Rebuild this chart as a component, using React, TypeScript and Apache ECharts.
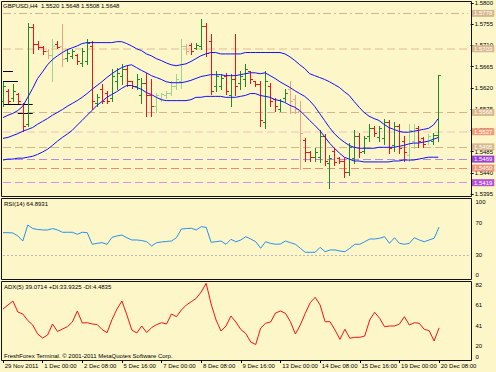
import React, { useEffect, useRef } from 'react';
import * as echarts from 'echarts';

const tickLabels = ['29 Nov 2011', '1 Dec 00:00', '2 Dec 08:00', '5 Dec 16:00', '7 Dec 00:00', '8 Dec 08:00', '9 Dec 16:00', '13 Dec 00:00', '14 Dec 08:00', '15 Dec 16:00', '19 Dec 00:00', '20 Dec 08:00'];

const opens = [1.5593,1.5614,1.5599,1.5606,1.5585,1.5544,1.5749,1.5713,1.5707,1.5699,
1.5690,1.5713,1.5709,1.5684,1.5688,1.5690,1.5673,1.5677,1.5709,1.5587,
1.5618,1.5610,1.5599,1.5635,1.5646,1.5661,1.5635,1.5625,1.5604,1.5631,
1.5604,1.5582,1.5599,1.5604,1.5610,1.5625,1.5635,1.5709,1.5711,1.5705,
1.5709,1.5751,1.5720,1.5625,1.5625,1.5646,1.5604,1.5639,1.5631,1.5639,
1.5656,1.5635,1.5629,1.5547,1.5625,1.5597,1.5576,1.5599,1.5618,1.5597,
1.5572,1.5509,1.5483,1.5473,1.5473,1.5519,1.5460,1.5487,1.5471,1.5466,
1.5441,1.5471,1.5519,1.5487,1.5519,1.5536,1.5515,1.5513,1.5547,1.5498,
1.5540,1.5508,1.5477,1.5508,1.5534,1.5513,1.5508,1.5508,1.5520];
const highs = [1.5633,1.5618,1.5629,1.5610,1.5589,1.5758,1.5755,1.5720,1.5709,1.5703,
1.5724,1.5720,1.5755,1.5703,1.5703,1.5692,1.5705,1.5724,1.5720,1.5608,
1.5629,1.5614,1.5661,1.5663,1.5671,1.5667,1.5635,1.5650,1.5642,1.5652,
1.5639,1.5610,1.5610,1.5614,1.5635,1.5650,1.5724,1.5713,1.5715,1.5715,
1.5766,1.5758,1.5734,1.5656,1.5650,1.5652,1.5650,1.5734,1.5656,1.5671,
1.5656,1.5635,1.5635,1.5656,1.5631,1.5599,1.5597,1.5618,1.5635,1.5604,
1.5593,1.5513,1.5487,1.5492,1.5530,1.5523,1.5477,1.5492,1.5473,1.5471,
1.5504,1.5530,1.5525,1.5519,1.5544,1.5540,1.5540,1.5555,1.5551,1.5547,
1.5544,1.5519,1.5544,1.5544,1.5540,1.5515,1.5523,1.5525,1.5648];
const lows = [1.5582,1.5587,1.5593,1.5587,1.5528,1.5540,1.5694,1.5703,1.5692,1.5684,
1.5635,1.5705,1.5667,1.5677,1.5684,1.5671,1.5667,1.5671,1.5576,1.5582,
1.5587,1.5587,1.5593,1.5618,1.5629,1.5625,1.5620,1.5618,1.5589,1.5561,
1.5561,1.5568,1.5593,1.5599,1.5604,1.5618,1.5620,1.5692,1.5692,1.5703,
1.5703,1.5688,1.5608,1.5614,1.5618,1.5608,1.5582,1.5604,1.5618,1.5625,
1.5631,1.5625,1.5540,1.5536,1.5582,1.5572,1.5572,1.5593,1.5566,1.5566,
1.5449,1.5466,1.5466,1.5466,1.5462,1.5456,1.5407,1.5456,1.5460,1.5431,
1.5435,1.5460,1.5473,1.5481,1.5508,1.5519,1.5508,1.5502,1.5481,1.5487,
1.5481,1.5466,1.5466,1.5492,1.5494,1.5494,1.5502,1.5502,1.5508];
const closes = [1.5625,1.5593,1.5614,1.5593,1.5540,1.5749,1.5713,1.5707,1.5699,1.5690,
1.5709,1.5707,1.5682,1.5694,1.5699,1.5677,1.5699,1.5715,1.5593,1.5601,
1.5593,1.5593,1.5646,1.5652,1.5661,1.5635,1.5625,1.5639,1.5631,1.5604,
1.5582,1.5604,1.5606,1.5610,1.5625,1.5639,1.5709,1.5699,1.5699,1.5711,
1.5751,1.5694,1.5614,1.5646,1.5642,1.5614,1.5639,1.5625,1.5646,1.5661,
1.5639,1.5629,1.5551,1.5635,1.5593,1.5582,1.5593,1.5610,1.5593,1.5576,
1.5525,1.5483,1.5473,1.5483,1.5519,1.5466,1.5471,1.5462,1.5464,1.5441,
1.5494,1.5519,1.5483,1.5513,1.5536,1.5525,1.5534,1.5547,1.5492,1.5540,
1.5492,1.5483,1.5530,1.5534,1.5508,1.5502,1.5519,1.5521,1.5648];
const paleBars = [9, 10, 12, 31, 32, 33, 34, 35, 36, 37, 58, 59, 60, 82, 83, 86];

const bbUpper = [1.5557,1.5562,1.5566,1.5572,1.5581,1.5600,1.5619,1.5640,1.5654,1.5669,
1.5680,1.5688,1.5695,1.5701,1.5705,1.5709,1.5714,1.5716,1.5716,1.5716,
1.5716,1.5716,1.5716,1.5718,1.5718,1.5714,1.5709,1.5703,1.5699,1.5692,
1.5688,1.5682,1.5678,1.5673,1.5669,1.5667,1.5669,1.5671,1.5676,1.5682,
1.5688,1.5692,1.5695,1.5695,1.5692,1.5692,1.5692,1.5692,1.5692,1.5695,
1.5695,1.5695,1.5695,1.5695,1.5695,1.5695,1.5695,1.5692,1.5686,1.5678,
1.5669,1.5661,1.5650,1.5646,1.5642,1.5638,1.5633,1.5627,1.5621,1.5612,
1.5604,1.5591,1.5579,1.5568,1.5560,1.5555,1.5551,1.5543,1.5536,1.5532,
1.5528,1.5526,1.5526,1.5528,1.5530,1.5532,1.5534,1.5541,1.5555];
const bbMiddle = [1.5513,1.5515,1.5519,1.5523,1.5528,1.5532,1.5536,1.5543,1.5549,1.5555,
1.5562,1.5568,1.5574,1.5581,1.5587,1.5593,1.5600,1.5608,1.5617,1.5625,
1.5633,1.5642,1.5650,1.5657,1.5663,1.5667,1.5669,1.5663,1.5657,1.5652,
1.5646,1.5642,1.5638,1.5633,1.5631,1.5631,1.5631,1.5633,1.5636,1.5640,
1.5644,1.5646,1.5648,1.5648,1.5648,1.5646,1.5646,1.5646,1.5648,1.5650,
1.5652,1.5652,1.5650,1.5652,1.5646,1.5640,1.5633,1.5627,1.5621,1.5614,
1.5608,1.5602,1.5593,1.5581,1.5566,1.5551,1.5536,1.5523,1.5513,1.5505,
1.5498,1.5494,1.5492,1.5492,1.5492,1.5492,1.5494,1.5494,1.5494,1.5494,
1.5496,1.5498,1.5501,1.5503,1.5503,1.5505,1.5507,1.5511,1.5515];
const bbLower = [1.5467,1.5469,1.5469,1.5471,1.5471,1.5473,1.5475,1.5479,1.5484,1.5490,
1.5498,1.5507,1.5515,1.5522,1.5530,1.5541,1.5551,1.5562,1.5572,1.5583,
1.5591,1.5600,1.5606,1.5612,1.5619,1.5625,1.5625,1.5621,1.5617,1.5610,
1.5606,1.5600,1.5595,1.5593,1.5593,1.5593,1.5593,1.5593,1.5595,1.5600,
1.5600,1.5602,1.5602,1.5602,1.5602,1.5600,1.5600,1.5600,1.5602,1.5604,
1.5608,1.5608,1.5604,1.5602,1.5600,1.5595,1.5593,1.5589,1.5583,1.5579,
1.5572,1.5562,1.5551,1.5541,1.5530,1.5517,1.5503,1.5492,1.5482,1.5473,
1.5469,1.5465,1.5465,1.5463,1.5463,1.5463,1.5463,1.5463,1.5463,1.5465,
1.5465,1.5467,1.5467,1.5467,1.5469,1.5471,1.5473,1.5473,1.5473];

const rsi = [57.9,57.9,57.5,53.8,47.5,67.5,63.1,61.9,61.3,61.3,
63.1,61.3,58.4,58.4,58.4,55.9,58.4,57.9,43.4,44.6,
45.4,43.4,52.1,53.8,55.0,51.6,48.8,48.8,48.1,46.6,
41.3,45.4,46.3,46.9,47.5,51.6,62.5,63.1,63.4,61.3,
65.4,64.6,45.9,46.6,47.5,43.4,49.6,46.6,48.8,52.9,
50.0,46.6,38.4,46.6,44.6,43.4,43.8,47.5,45.4,43.4,
38.4,33.4,33.4,33.4,39.6,34.1,36.3,36.3,35.0,34.1,
38.4,43.4,43.4,46.6,50.0,50.0,50.9,52.9,44.6,51.6,
44.6,43.4,44.6,51.6,48.8,46.6,48.8,50.9,64.8931];

const adx = [58,62,66,55,53,46.5,42,33,29,32,
43,35.5,38,40.3,45,56,44,44.3,43,42.5,
37.5,34.3,47.5,58,66,52,37,34,41,34.5,
39.5,42.3,44.3,43,53,50.3,57,62,65.3,68.7,
75,83.7,63,47,36,41,51,45,37.5,33.5,
25,22.5,39,43.7,45,54,56,53.7,45.3,33,
42,53.7,64.3,69.7,62,45.3,45.3,37,27.7,37.7,
28.7,29.7,29.7,31,47,54.7,48.7,40.3,41,41,
43,50.3,42,44.3,43.7,37.7,36.3,26,39.0714];

const levelPrices = [1.5778, 1.5703, 1.5568, 1.5527, 1.5495, 1.5469, 1.5450, 1.5419];
const lastPrice = 1.5648;
const blackLinePrices = [1.5655, 1.5634, 1.5585, 1.5566];
const blackLineStart = [0, 0, 0, 3];
const blackLineEnd = [2, 3, 6, 6];

const titleText = 'GBPUSD,H4  1.5520 1.5648 1.5508 1.5648';
const rsiTitle = 'RSI(14) 64.8931';
const adxTitle = 'ADX(5) 39.0714 +DI:33.9325 -DI:4.4835';
const copyright = 'FreshForex Terminal. \u00a9 2001-2011 MetaQuotes Software Corp.';

const levelStyles = [
  { line: '#d4b68c', label: '#d7b88e', type: [8, 3, 2, 3], width: 1 },
  { line: '#eed9b0', label: '#d7b88e', type: [8, 4], width: 2 },
  { line: '#d4b68c', label: '#d7b88e', type: [8, 4], width: 1 },
  { line: '#f6dcc4', label: '#f29c7c', type: [8, 4], width: 2 },
  { line: '#d4b68c', label: '#d7b88e', type: [8, 4], width: 1 },
  { line: '#b48ce0', label: '#9c40d6', type: [8, 4], width: 1 },
  { line: '#f08a6c', label: '#f2957a', type: [8, 4], width: 1 },
  { line: '#d890ee', label: '#b450d6', type: [8, 4], width: 1 },
];

const FONT = 'Liberation Sans';
const GREEN = '#1e8c1e';
const RED = '#f01414';
const PALE_GREEN = '#9fd48c';
const PALE_RED = '#f4a284';
const BG = '#fcf6c8';
const NCAT = 95;

export default function App() {
  const ref = useRef<HTMLDivElement>(null);
  useEffect(() => {
    if (!ref.current) return;
    const chart = echarts.init(ref.current, undefined, { renderer: 'svg' });
    const cats = Array.from({ length: NCAT }, (_, i) => String(i));
    const ohlc = opens.map((o, i) => [i, o, highs[i], lows[i], closes[i]]);
    const gl = 3, gr = 27.2;
    const xBase = (gi: number) => ({
      type: 'category', gridIndex: gi, data: cats, boundaryGap: false, show: gi === 3,
      axisLine: { show: false },
      axisTick: { show: gi === 3, interval: (i: number) => i % 8 === 0, length: 3, lineStyle: { color: '#000' } },
      axisLabel: {
        show: gi === 3, interval: (i: number) => i % 8 === 0, align: 'left', margin: 2.5, fontSize: 6, color: '#000', fontFamily: FONT,
        formatter: (_v: string, i: number) => (i % 8 === 0 && tickLabels[i / 8]) ? ' ' + tickLabels[i / 8] : '',
      },
      splitLine: { show: false },
    });
    const markData: any[] = levelPrices.map((p, k) => ({
      yAxis: p,
      lineStyle: { color: levelStyles[k].line, type: levelStyles[k].type, width: levelStyles[k].width },
      label: { show: true, position: 'end', distance: 4, formatter: p.toFixed(4), backgroundColor: levelStyles[k].label, color: '#fff', fontSize: 6, fontFamily: FONT, padding: [1, 2, 0, 2] },
    }));
    markData.push({
      yAxis: lastPrice,
      lineStyle: { opacity: 0 },
      label: { show: true, position: 'end', distance: 4, formatter: lastPrice.toFixed(4), backgroundColor: '#000', color: '#fff', fontSize: 6, fontFamily: FONT, padding: [1, 2, 0, 2] },
    });
    blackLinePrices.forEach((p, k) => {
      markData.push([
        { coord: [String(blackLineStart[k]), p], lineStyle: { color: '#000', type: 'solid', width: 1 }, label: { show: false } },
        { coord: [String(blackLineEnd[k]), p] },
      ]);
    });
    const option: any = {
      animation: false,
      backgroundColor: BG,
      textStyle: { fontFamily: FONT },
      grid: [
        { left: gl, right: gr, top: 2, height: 192 },
        { left: gl, right: gr, top: 199, height: 80 },
        { left: gl, right: gr, top: 281, height: 86 },
        { left: gl, right: gr, top: 359, height: 1 },
      ],
      xAxis: [xBase(0), xBase(1), xBase(2), xBase(3)],
      yAxis: [
        {
          type: 'value', gridIndex: 0, position: 'right', min: 1.5395, max: 1.58, interval: 0.0045, offset: 2.7,
          axisLine: { show: false }, axisTick: { show: true, length: 3, lineStyle: { color: '#000' } },
          axisLabel: { fontSize: 6, color: '#000', margin: 4, fontFamily: FONT, formatter: (v: number) => v.toFixed(4) },
          splitLine: { show: false },
        },
        {
          type: 'value', gridIndex: 1, position: 'right', min: 0, max: 100, interval: 10, offset: 2.7,
          axisLine: { show: false }, axisTick: { show: false },
          axisLabel: {
            fontSize: 6, color: '#000', margin: 4, fontFamily: FONT,
            formatter: (v: number) => v === 100 ? '{a|100}' : v === 0 ? '{b|0}' : (v === 70 || v === 30) ? String(v) : '',
            rich: { a: { fontSize: 6, padding: [6, 0, 0, 0] }, b: { fontSize: 6, padding: [0, 0, 8, 0] } },
          },
          splitLine: { show: false },
        },
        {
          type: 'value', gridIndex: 2, position: 'right', min: 0, max: 86, interval: 20.6, offset: 2.7,
          axisLine: { show: false }, axisTick: { show: false },
          axisLabel: {
            fontSize: 6, color: '#000', margin: 4, fontFamily: FONT,
            formatter: (v: number) => v > 85 ? '' : v === 0 ? '{b|0}' : String(Math.floor(v + 1e-6)),
            rich: { b: { fontSize: 6, padding: [0, 0, 20, 0] } },
          },
          splitLine: { show: false },
        },
        { type: 'value', gridIndex: 3, show: false },
      ],
      series: [
        {
          type: 'custom', xAxisIndex: 0, yAxisIndex: 0, data: ohlc, encode: { x: 0, y: [1, 2, 3, 4] },
          renderItem: (_p: any, api: any) => {
            const i = api.value(0);
            const o = api.value(1), h = api.value(2), l = api.value(3), c = api.value(4);
            const ph = api.coord([i, h]), pl = api.coord([i, l]), po = api.coord([i, o]), pc = api.coord([i, c]);
            const x = Math.round(ph[0]) + 0.5;
            const up = c >= o;
            const pale = paleBars.indexOf(i) >= 0;
            const style = { stroke: up ? (pale ? PALE_GREEN : GREEN) : (pale ? PALE_RED : RED), lineWidth: 1 };
            const yo = Math.round(po[1]) + 0.5, yc = Math.round(pc[1]) + 0.5;
            return {
              type: 'group', children: [
                { type: 'line', shape: { x1: x, y1: Math.round(ph[1]), x2: x, y2: Math.round(pl[1]) + 1 }, style },
                { type: 'line', shape: { x1: x - 2.5, y1: yo, x2: x, y2: yo }, style },
                { type: 'line', shape: { x1: x, y1: yc, x2: x + 2.5, y2: yc }, style },
              ],
            };
          },
          z: 3,
        },
        { type: 'line', xAxisIndex: 0, yAxisIndex: 0, data: bbUpper, symbol: 'none', lineStyle: { color: '#1010ff', width: 1 }, z: 4,
          markLine: { symbol: 'none', silent: true, precision: 4, data: markData, z: 2 } },
        { type: 'line', xAxisIndex: 0, yAxisIndex: 0, data: bbMiddle, symbol: 'none', lineStyle: { color: '#1010ff', width: 1 }, z: 4 },
        { type: 'line', xAxisIndex: 0, yAxisIndex: 0, data: bbLower, symbol: 'none', lineStyle: { color: '#1010ff', width: 1 }, z: 4 },
        { type: 'line', xAxisIndex: 1, yAxisIndex: 1, data: rsi, symbol: 'none', lineStyle: { color: '#2a90f0', width: 1 },
          markLine: { symbol: 'none', silent: true, precision: 2, label: { show: false }, data: [{ yAxis: 30, lineStyle: { color: '#b8b8b8', type: [2, 2], width: 1 } }] } },
        { type: 'line', xAxisIndex: 2, yAxisIndex: 2, data: adx, symbol: 'none', lineStyle: { color: '#ff1010', width: 1 } },
      ],
      graphic: [
        { type: 'rect', z: 100, shape: { x: 1.5, y: 1.5, width: 470, height: 195 }, style: { fill: 'none', stroke: '#111', lineWidth: 1 } },
        { type: 'rect', z: 100, shape: { x: 1.5, y: 198.5, width: 470, height: 81 }, style: { fill: 'none', stroke: '#111', lineWidth: 1 } },
        { type: 'rect', z: 100, shape: { x: 1.5, y: 281.5, width: 470, height: 79 }, style: { fill: 'none', stroke: '#111', lineWidth: 1 } },
        { type: 'text', z: 101, style: { text: titleText, x: 3, y: 6, fill: '#000', font: `6px "${FONT}"`, textVerticalAlign: 'middle', verticalAlign: 'middle' } },
        { type: 'text', z: 101, style: { text: rsiTitle, x: 4, y: 204, fill: '#000', font: `6px "${FONT}"`, textVerticalAlign: 'middle', verticalAlign: 'middle' } },
        { type: 'text', z: 101, style: { text: adxTitle, x: 4, y: 286.7, fill: '#000', font: `6px "${FONT}"`, textVerticalAlign: 'middle', verticalAlign: 'middle' } },
        { type: 'text', z: 101, style: { text: copyright, x: 4, y: 356.3, fill: '#000', font: `6px "${FONT}"`, textVerticalAlign: 'middle', verticalAlign: 'middle' } },
      ],
    };
    chart.setOption(option);
    return () => chart.dispose();
  }, []);
  return <div ref={ref} style={{ position: 'fixed', left: 0, top: 0, width: 496, height: 372, background: BG }} />;
}
